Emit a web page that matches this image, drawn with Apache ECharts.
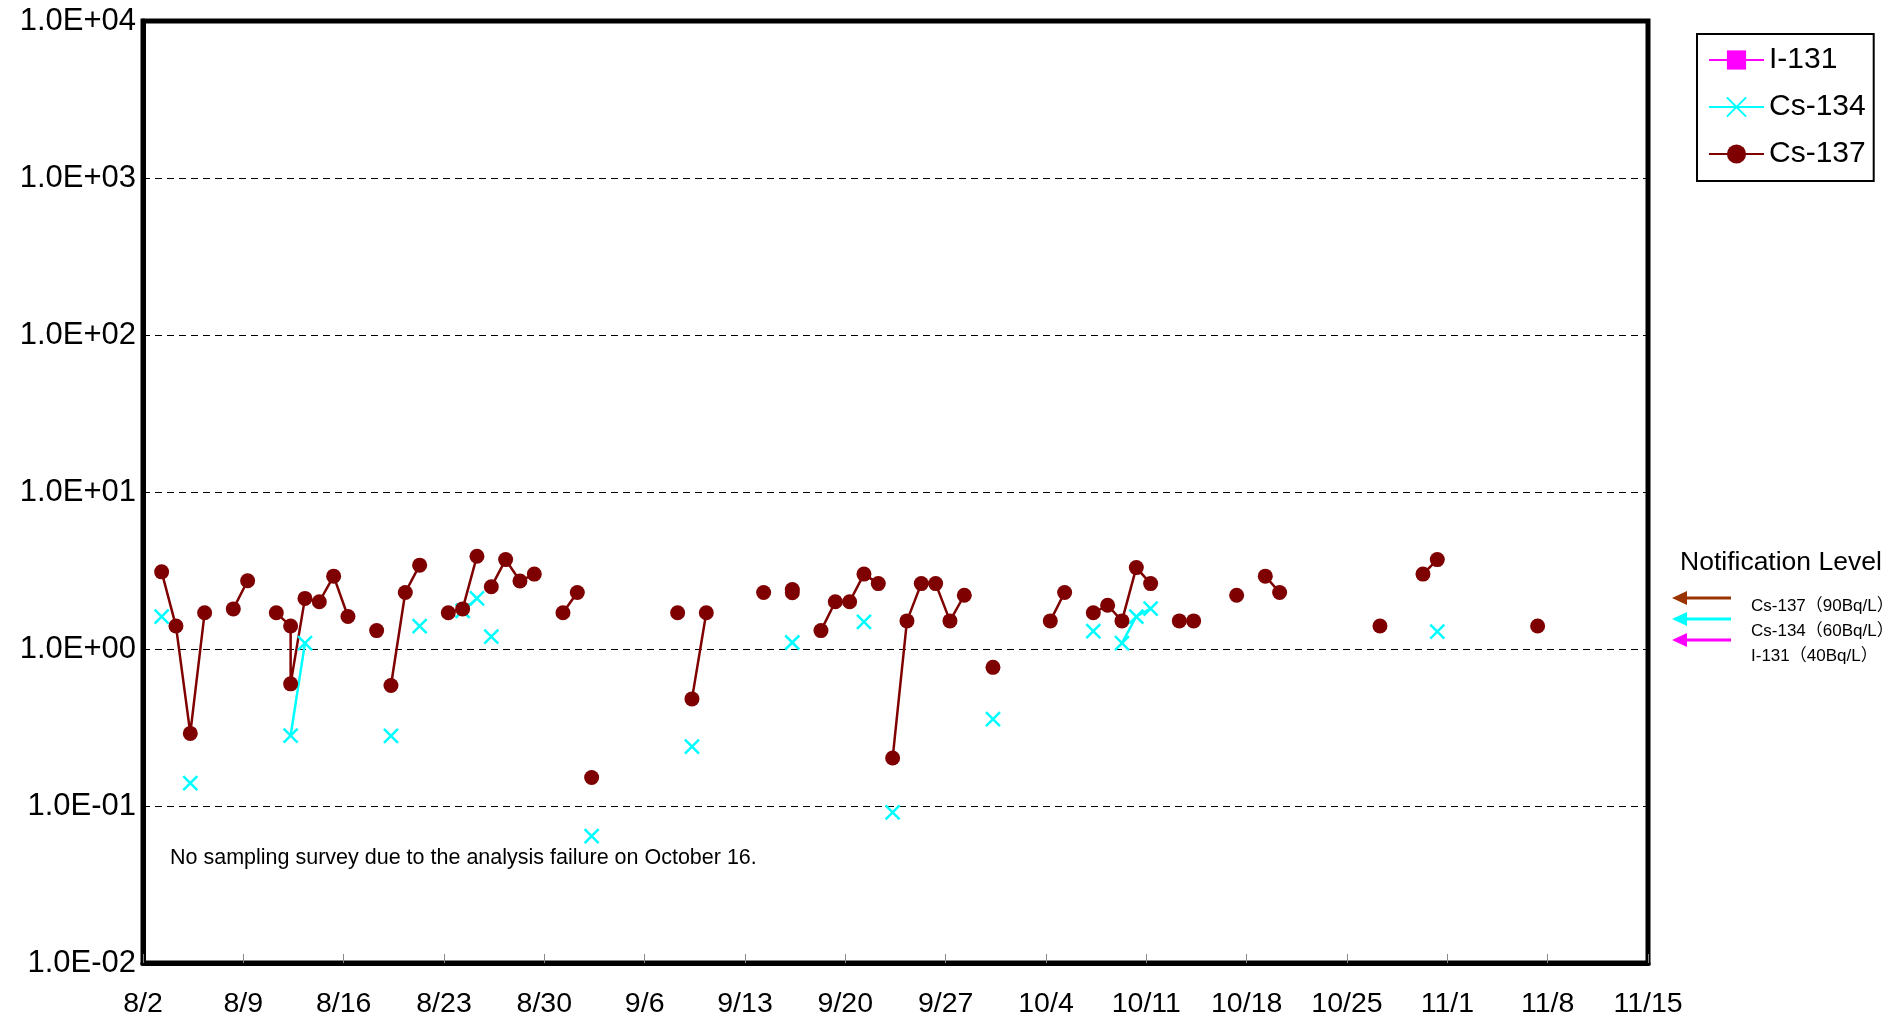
<!DOCTYPE html>
<html>
<head>
<meta charset="utf-8">
<script src="https://cdn.jsdelivr.net/npm/echarts@6/dist/echarts.min.js"></script>
<style>
html,body{margin:0;padding:0;background:#fff;}
#chart{width:1904px;height:1024px;}
</style>
</head>
<body>
<div id="chart"></div>
<script>
// ---- DATA ----
// null in a dates array marks a break in the line
const xTickLabels = ['8/2','8/9','8/16','8/23','8/30','9/6','9/13','9/20','9/27','10/4','10/11','10/18','10/25','11/1','11/8','11/15'];
const yTickLabels = ['1.0E-02','1.0E-01','1.0E+00','1.0E+01','1.0E+02','1.0E+03','1.0E+04'];
const seriesNames = ['I-131','Cs-134','Cs-137'];

const i131Dates = [];
const i131Values = [];

const cs134Dates = ['8/3',null,'8/5',null,'8/12','8/13',null,'8/19',null,'8/21',null,'8/24','8/25',null,'8/26',null,'9/2',null,'9/9',null,'9/16',null,'9/21',null,'9/23',null,'9/30',null,'10/7',null,'10/9','10/10','10/11',null,'10/31'];
const cs134Values = [1.61,null,0.140,null,0.281,1.09,null,0.28,null,1.40,null,1.75,2.10,null,1.20,null,0.0642,null,0.239,null,1.10,null,1.49,null,0.0912,null,0.357,null,1.30,null,1.09,1.61,1.81,null,1.29];

const cs137Dates = ['8/3','8/4','8/5','8/6',null,'8/8','8/9',null,'8/11','8/12','8/12','8/13','8/14','8/15','8/16',null,'8/18',null,'8/19','8/20','8/21',null,'8/23','8/24','8/25',null,'8/26','8/27','8/28','8/29',null,'8/31','9/1',null,'9/2',null,'9/8',null,'9/9','9/10',null,'9/14',null,'9/16','9/16',null,'9/18','9/19','9/20','9/21','9/22',null,'9/23','9/24','9/25','9/26','9/27','9/28',null,'9/30',null,'10/4','10/5',null,'10/7','10/8','10/9','10/10','10/11',null,'10/13','10/14',null,'10/17',null,'10/19','10/20',null,'10/27',null,'10/30','10/31',null,'11/7'];
const cs137Values = [3.10,1.40,0.29,1.70,null,1.80,2.72,null,1.70,1.40,0.60,2.10,2.00,2.91,1.61,null,1.31,null,0.585,2.29,3.42,null,1.70,1.80,3.90,null,2.49,3.71,2.71,3.00,null,1.70,2.29,null,0.152,null,1.70,null,0.481,1.70,null,2.29,null,2.39,2.28,null,1.31,2.00,2.00,3.00,2.61,null,0.202,1.51,2.61,2.61,1.51,2.20,null,0.764,null,1.51,2.29,null,1.70,1.90,1.51,3.30,2.61,null,1.51,1.51,null,2.20,null,2.91,2.29,null,1.40,null,3.00,3.71,null,1.40];

const noteText = 'No sampling survey due to the analysis failure on October 16.';
const notifTitle = 'Notification Level';
const notifLabels = ['Cs-137（90Bq/L）','Cs-134（60Bq/L）','I-131（40Bq/L）'];

// ---- helpers ----
const YEAR = 2011;
const START = Date.UTC(YEAR, 7, 2);
const SAMPLE_TIME = 0.3; // sampling time of day (fraction of a day)
function toDay(md){
  const p = md.split('/').map(Number);
  return (Date.UTC(YEAR, p[0]-1, p[1]) - START) / 86400000 + SAMPLE_TIME;
}
function build(dates, values){
  return dates.map((d,i) => d === null ? ['-','-'] : [toDay(d), values[i]]);
}

const FONT = '"Liberation Sans", Arial, "Noto Sans CJK JP", sans-serif';
const GL = 143, GT = 21, GW = 1505, GH = 942;

const chart = echarts.init(document.getElementById('chart'), null, {renderer:'canvas'});

const arrowColors = ['#993300','#00ffff','#ff00ff'];
const arrowY = [598, 619, 640];
const labelY = [606, 631, 656];
const graphics = [
  {type:'text', left:170, top:847, style:{text:noteText, font:'21.5px '+FONT, fill:'#000'}},
  {type:'text', left:1680, top:549, style:{text:notifTitle, font:'26.5px '+FONT, fill:'#000'}}
];
arrowColors.forEach((c,i)=>{
  graphics.push({type:'line', shape:{x1:1684,y1:arrowY[i],x2:1731,y2:arrowY[i]}, style:{stroke:c, lineWidth:3}});
  graphics.push({type:'polygon', shape:{points:[[1672,arrowY[i]],[1687,arrowY[i]-7],[1687,arrowY[i]+7]]}, style:{fill:c}});
  graphics.push({type:'text', x:1751, y:labelY[i], style:{text:notifLabels[i], font:'17px '+FONT, fill:'#000', verticalAlign:'middle'}});
});

const option = {
  animation:false,
  backgroundColor:'#fff',
  textStyle:{fontFamily:FONT},
  grid:{left:GL, top:GT, width:GW, height:GH, show:true, borderColor:'#000', borderWidth:5, backgroundColor:'transparent'},
  legend:{
    orient:'vertical', left:1697, top:34,
    padding:[11,8,12,11], itemWidth:55, itemHeight:24, itemGap:17,
    borderColor:'#000', borderWidth:2,
    textStyle:{fontSize:30, color:'#000', fontFamily:FONT},
    data:seriesNames
  },
  xAxis:{
    type:'value', min:0, max:105, interval:7,
    axisLine:{show:true, lineStyle:{color:'#000', width:5}},
    axisTick:{show:true, inside:true, length:9, lineStyle:{color:'#888', width:1}},
    splitLine:{show:false},
    axisLabel:{margin:27, fontSize:28.5, color:'#000', fontFamily:FONT,
      formatter:(v)=> xTickLabels[Math.round(v/7)] || ''}
  },
  yAxis:{
    type:'log', logBase:10, min:0.01, max:10000,
    axisLine:{show:true, lineStyle:{color:'#000', width:5}},
    axisTick:{show:false},
    splitLine:{show:true, lineStyle:{color:'#000', width:1, type:[7,5]}},
    minorSplitLine:{show:false},
    axisLabel:{margin:7, fontSize:31, color:'#000', fontFamily:FONT,
      formatter:(v)=> yTickLabels[Math.round(Math.log10(v))+2] || ''}
  },
  series:[
    {name:'I-131', type:'line', data:build(i131Dates,i131Values), symbol:'rect', symbolSize:14,
      itemStyle:{color:'#ff00ff'}, lineStyle:{color:'#ff00ff', width:2.5}},
    {name:'Cs-134', type:'line', data:build(cs134Dates,cs134Values), connectNulls:false,
      symbol:'path://M0,0L10,10M10,0L0,10', symbolSize:14,
      itemStyle:{color:'#00ffff', borderColor:'#00ffff', borderWidth:2.5},
      lineStyle:{color:'#00ffff', width:2.5}},
    {name:'Cs-137', type:'line', data:build(cs137Dates,cs137Values), connectNulls:false,
      symbol:'circle', symbolSize:15,
      itemStyle:{color:'#7f0000'}, lineStyle:{color:'#7f0000', width:2.5}}
  ],
  graphic:graphics
};
chart.setOption(option);
</script>
</body>
</html>
